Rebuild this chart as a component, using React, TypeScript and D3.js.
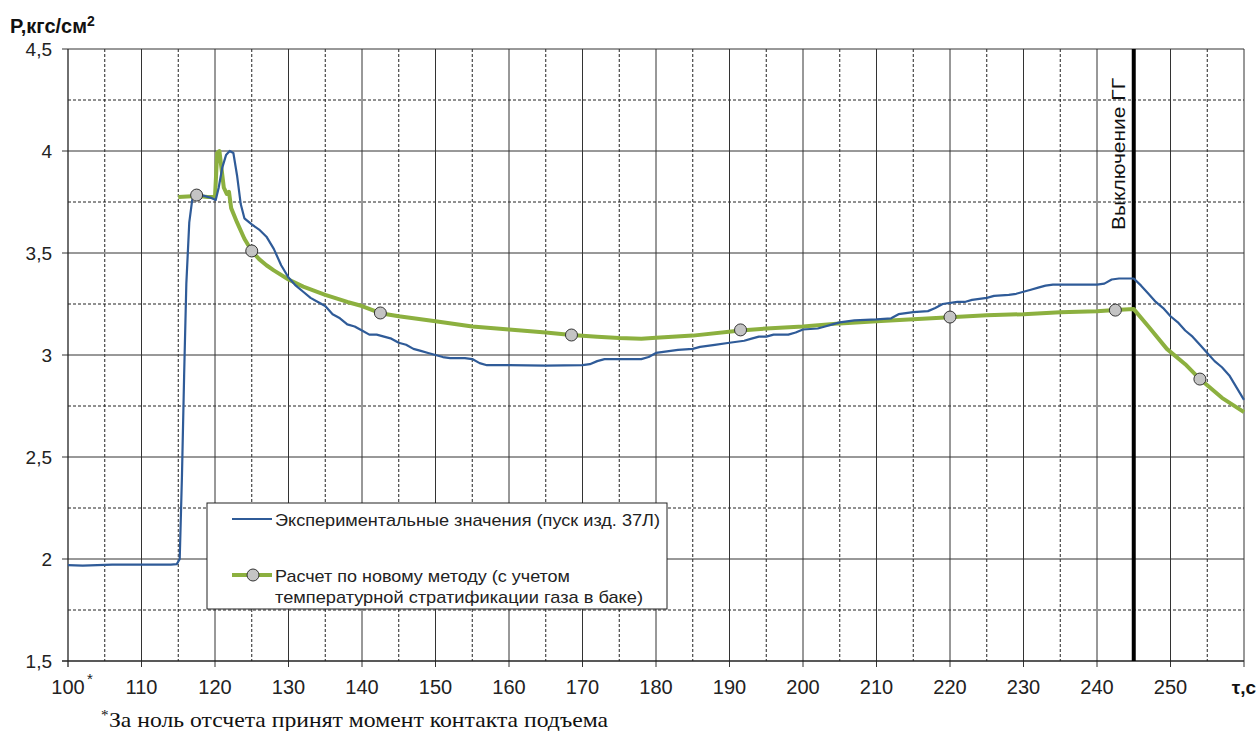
import React from 'react';
import * as d3 from 'd3';

const xTicks = [100, 110, 120, 130, 140, 150, 160, 170, 180, 190, 200, 210, 220, 230, 240, 250];
const yTicks = [1.5, 2, 2.5, 3, 3.5, 4, 4.5];
const yTickLabels = ['1,5', '2', '2,5', '3', '3,5', '4', '4,5'];

const expT = [100, 102, 104, 106, 108, 110, 112, 114, 114.8, 115.2, 115.5, 115.8, 116.1, 116.5, 116.9, 117.5, 118.5, 119.5, 120.1, 120.5, 121, 121.5, 122, 122.5, 123, 123.5, 124, 125, 126, 127, 128, 129, 130, 131, 132, 133, 134, 135, 136, 137, 138, 139, 140, 141, 142, 143, 144, 145, 146, 147, 148, 149, 150, 151, 152, 153, 154, 155, 156, 157, 158, 160, 165, 170, 171, 172, 173, 175, 178, 179, 180, 181, 182, 183, 185, 186, 188, 190, 191, 192, 193, 194, 195, 196, 198, 199, 200, 202, 203, 204, 205, 207, 210, 212, 213, 215, 217, 218, 219, 221, 222, 223, 225, 226, 228, 229, 230, 231, 232, 233, 234, 236, 240, 241, 242, 243, 245, 246, 247, 248, 249, 250, 251, 252, 253, 254, 255, 256, 257, 258, 259, 260];
const expP = [1.97, 1.968, 1.97, 1.972, 1.972, 1.972, 1.972, 1.972, 1.975, 2.0, 2.4, 2.9, 3.35, 3.65, 3.76, 3.79, 3.78, 3.77, 3.76, 3.82, 3.92, 3.98, 4.0, 3.99, 3.88, 3.74, 3.67, 3.64, 3.615, 3.58, 3.52, 3.44, 3.38, 3.34, 3.31, 3.28, 3.26, 3.24, 3.2, 3.18, 3.15, 3.14, 3.12, 3.1, 3.1, 3.09, 3.08, 3.06, 3.05, 3.03, 3.02, 3.01, 3.0, 2.99, 2.985, 2.985, 2.985, 2.98, 2.96, 2.95, 2.95, 2.95, 2.948, 2.95, 2.955, 2.97, 2.98, 2.98, 2.98, 2.99, 3.01, 3.015, 3.02, 3.025, 3.03, 3.04, 3.05, 3.06, 3.065, 3.07, 3.08, 3.09, 3.09, 3.1, 3.1, 3.11, 3.125, 3.13, 3.14, 3.15, 3.16, 3.17, 3.175, 3.18, 3.2, 3.21, 3.215, 3.23, 3.25, 3.26, 3.26, 3.27, 3.28, 3.29, 3.295, 3.3, 3.31, 3.32, 3.33, 3.34, 3.345, 3.345, 3.345, 3.35, 3.37, 3.375, 3.375, 3.34, 3.3, 3.26, 3.23, 3.19, 3.16, 3.12, 3.09, 3.05, 3.01, 2.97, 2.94, 2.9, 2.84, 2.78];

const calcT = [115, 117.5, 119, 120, 120.3, 120.6, 121.2, 121.6, 121.9, 122.2, 123, 124, 125, 126, 127, 128, 130, 132, 135, 138, 140, 142.5, 145, 150, 155, 160, 165, 168.5, 172, 175, 178, 180, 185, 191.5, 195, 200, 205, 210, 215, 220, 225, 230, 235, 240, 242.5, 245, 247, 249.5, 252, 254, 257, 260];
const calcP = [3.775, 3.78, 3.775, 3.775, 3.99, 4.0, 3.82, 3.79, 3.8, 3.72, 3.65, 3.57, 3.51, 3.47, 3.44, 3.415, 3.37, 3.335, 3.295, 3.26, 3.24, 3.205, 3.19, 3.165, 3.14, 3.125, 3.11, 3.098, 3.09, 3.083, 3.08, 3.085, 3.095, 3.12, 3.13, 3.14, 3.155, 3.165, 3.175, 3.185, 3.195, 3.2, 3.21, 3.215, 3.22, 3.225, 3.14, 3.03, 2.955, 2.882, 2.79, 2.72];

const markerT = [117.5, 125, 142.5, 168.5, 191.5, 220, 242.5, 254];
const markerP = [3.784, 3.51, 3.206, 3.098, 3.123, 3.186, 3.22, 2.882];

const shutdownT = 245;

const legendItems = [
  'Экспериментальные значения (пуск изд. 37Л)',
  'Расчет по новому методу  (с учетом',
  'температурной стратификации  газа в баке)',
];

const BLUE = '#2f5b98';
const GREEN = '#8cb03f';

export default function App() {
  const W = 1257, H = 731;
  const x = d3.scaleLinear().domain([100, 260]).range([68, 1244]);
  const y = d3.scaleLinear().domain([1.5, 4.5]).range([661, 49]);
  const x0 = x(100), x1 = x(260), yTop = y(4.5), yBot = y(1.5);

  const line = d3.line<[number, number]>().x(d => x(d[0])).y(d => y(d[1]));
  const expPath = line(expT.map((t, i) => [t, expP[i]]) as [number, number][]) || '';
  const calcPath = line(calcT.map((t, i) => [t, calcP[i]]) as [number, number][]) || '';

  const minorX = d3.range(105, 260, 10);
  const majorX = d3.range(110, 260, 10);
  const minorY = d3.range(1.75, 4.5, 0.5);
  const majorY = [2, 2.5, 3, 3.5, 4];

  const font = "'Liberation Sans', Arial, sans-serif";
  const serif = "'Liberation Serif', 'Times New Roman', serif";

  return (
    <svg width={W} height={H} style={{ position: 'absolute', left: 0, top: 0, background: '#fff' }} fontFamily={font}>
      {/* minor grid */}
      {minorX.map(v => (
        <line key={'mx' + v} x1={x(v)} x2={x(v)} y1={yTop} y2={yBot} stroke="#222" strokeWidth={1} strokeDasharray="3,2" />
      ))}
      {minorY.map(v => (
        <line key={'my' + v} x1={x0} x2={x1} y1={y(v)} y2={y(v)} stroke="#222" strokeWidth={1} strokeDasharray="3,2" />
      ))}
      {/* major grid */}
      {majorX.map(v => (
        <line key={'Mx' + v} x1={x(v)} x2={x(v)} y1={yTop} y2={yBot + 6} stroke="#333" strokeWidth={1} />
      ))}
      {majorY.map(v => (
        <line key={'My' + v} x1={x0 - 6} x2={x1} y1={y(v)} y2={y(v)} stroke="#333" strokeWidth={1} />
      ))}
      {/* frame */}
      <line x1={x0 - 6} x2={x1} y1={yTop} y2={yTop} stroke="#333" strokeWidth={1} />
      <line x1={x0 - 6} x2={x1} y1={yBot} y2={yBot} stroke="#222" strokeWidth={1.3} />
      <line x1={x0} x2={x0} y1={yTop} y2={yBot + 6} stroke="#222" strokeWidth={1.3} />
      <line x1={x1} x2={x1} y1={yTop} y2={yBot + 6} stroke="#333" strokeWidth={1} />

      {/* y tick labels */}
      {yTicks.map((v, i) => (
        <text key={'yl' + v} x={52} y={y(v)} dy="0.35em" textAnchor="end" fontSize={19} fill="#222">{yTickLabels[i]}</text>
      ))}
      {/* x tick labels */}
      {xTicks.map(v => (
        <text key={'xl' + v} x={x(v)} y={694} textAnchor="middle" fontSize={20} fill="#222">{v}</text>
      ))}
      <text x={x(100) + 19} y={684} fontSize={15} fill="#222">*</text>
      <text x={1256} y={694} textAnchor="end" fontSize={19} fontWeight="bold" fill="#111">τ,с</text>

      {/* y axis title */}
      <text x={10} y={33} fontSize={20} fontWeight="bold" fill="#111">P,кгс/см<tspan dy={-7} fontSize={14}>2</tspan></text>

      {/* shutdown line */}
      <line x1={x(shutdownT)} x2={x(shutdownT)} y1={yTop} y2={yBot} stroke="#000" strokeWidth={4} />
      <text transform={`translate(${x(shutdownT) - 9},230) rotate(-90)`} fontSize={18} fill="#111" textLength={152} lengthAdjust="spacingAndGlyphs">Выключение ГГ</text>

      {/* series */}
      <path d={calcPath} fill="none" stroke={GREEN} strokeWidth={4} strokeLinejoin="round" />
      <path d={expPath} fill="none" stroke={BLUE} strokeWidth={2.2} strokeLinejoin="round" />
      {markerT.map((t, i) => (
        <circle key={'m' + t} cx={x(t)} cy={y(markerP[i])} r={6} fill="#c4c4c4" stroke="#333" strokeWidth={1} />
      ))}

      {/* legend */}
      <rect x={207} y={503} width={460} height={106} fill="#fff" stroke="#222" strokeWidth={1} />
      <line x1={232} x2={272} y1={519} y2={519} stroke={BLUE} strokeWidth={2.2} />
      <text x={275} y={526} fontSize={17} fill="#222" textLength={385} lengthAdjust="spacingAndGlyphs">{legendItems[0]}</text>
      <line x1={232} x2={272} y1={575} y2={575} stroke={GREEN} strokeWidth={4} />
      <circle cx={253} cy={575} r={6} fill="#c4c4c4" stroke="#333" strokeWidth={1} />
      <text x={275} y={582} fontSize={17} fill="#222" textLength={295} lengthAdjust="spacingAndGlyphs">{legendItems[1]}</text>
      <text x={275} y={603} fontSize={17} fill="#222" textLength={368} lengthAdjust="spacingAndGlyphs">{legendItems[2]}</text>

      {/* footnote */}
      <text x={101} y={720} fontSize={15} fontFamily={serif} fill="#111">*</text>
      <text x={109} y={727} fontSize={21} fontFamily={serif} fill="#111" textLength={499} lengthAdjust="spacingAndGlyphs">За ноль отсчета принят момент контакта подъема</text>
    </svg>
  );
}
